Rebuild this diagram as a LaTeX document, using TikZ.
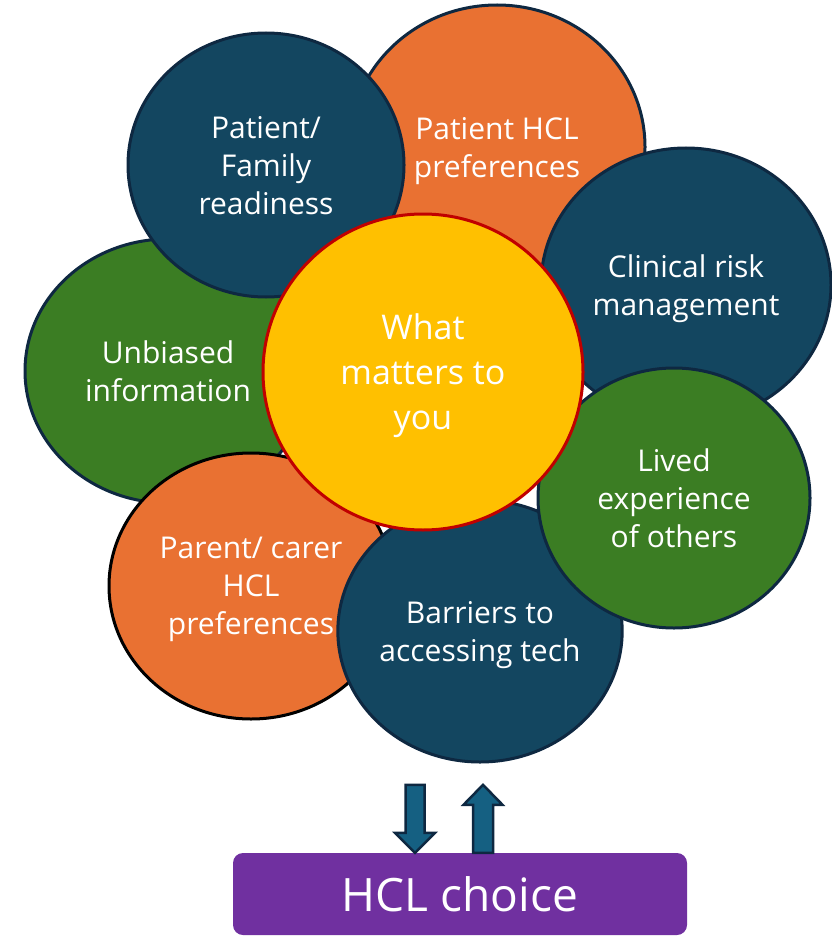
\documentclass[tikz,border=0pt]{standalone}
\usepackage{fontspec}
\setmainfont{Open Sans}
\usepackage{tikz}
\usetikzlibrary{calc,shapes.geometric}

\definecolor{hclorange}{HTML}{E97132}
\definecolor{hclgreen}{HTML}{3B7D23}
\definecolor{hclpetrol}{HTML}{134660}
\definecolor{hclline}{HTML}{0E2841}
\definecolor{hclyellow}{HTML}{FFC000}
\definecolor{hclred}{HTML}{C00000}
\definecolor{hclpurple}{HTML}{7030A0}
\definecolor{hclarrow}{HTML}{156082}

\begin{document}
\begin{tikzpicture}[%
    x=1pt, y=-1pt,
    bubble/.style={ellipse, draw=hclline, line width=3pt, inner sep=0pt, text depth=0pt,
      text=white, align=center, font=\fontsize{30}{38}\selectfont},
    blockarrow/.style={draw=hclline, fill=hclarrow, line width=2.5pt, line join=miter}
  ]
    \useasboundingbox (0,0) rectangle (831,936);

    \node[bubble, fill=hclorange, minimum width=296, minimum height=284] (prefs)     at (497,147) {Patient HCL\\preferences};
    \node[bubble, fill=hclgreen,  minimum width=286, minimum height=264] (unbiased)  at (168,371) {Unbiased\\information};
    \node[bubble, fill=hclpetrol, minimum width=276, minimum height=264] (readiness) at (266,165) {Patient/\\Family\\readiness};
    \node[bubble, fill=hclpetrol, minimum width=290, minimum height=274] (risk)      at (686,285) {Clinical risk\\management};
    \node[bubble, fill=hclorange, draw=black, minimum width=284, minimum height=266] (parent) at (251,586) {Parent/ carer\\HCL\\preferences};
    \node[bubble, fill=hclpetrol, minimum width=266, minimum height=262] (barriers)  at (480,631) {Barriers to\\accessing tech};
    \node[bubble, fill=hclgreen,  minimum width=272, minimum height=260] (lived)     at (674,498) {Lived\\experience\\of others};
    \node[bubble, fill=hclyellow, draw=hclred, minimum width=320, minimum height=316,
          font=\fontsize{34}{45}\selectfont] (matters) at (423,372) {What\\matters to\\you};

    \node[rectangle, rounded corners=10pt, fill=hclpurple, text=white, inner sep=0pt, text depth=0pt,
          minimum width=454, minimum height=82, font=\fontsize{46}{50}\selectfont] (choice) at (460,894) {HCL choice};

    \coordinate (downtip) at ($(choice.north)+(-45,0)$);
    \coordinate (upbase)  at ($(choice.north)+(13,0)$);

    \draw[blockarrow] (downtip) -- ++(-20,-20) -- ++(10.5,0) -- ++(0,-48) -- ++(19,0) -- ++(0,48) -- ++(10.5,0) -- cycle;
    \draw[blockarrow] (upbase) -- ++(0,-48) -- ++(-9.5,0) -- ++(19.5,-20) -- ++(19.5,20) -- ++(-9.5,0) -- ++(0,48) -- cycle;
\end{tikzpicture}
\end{document}
